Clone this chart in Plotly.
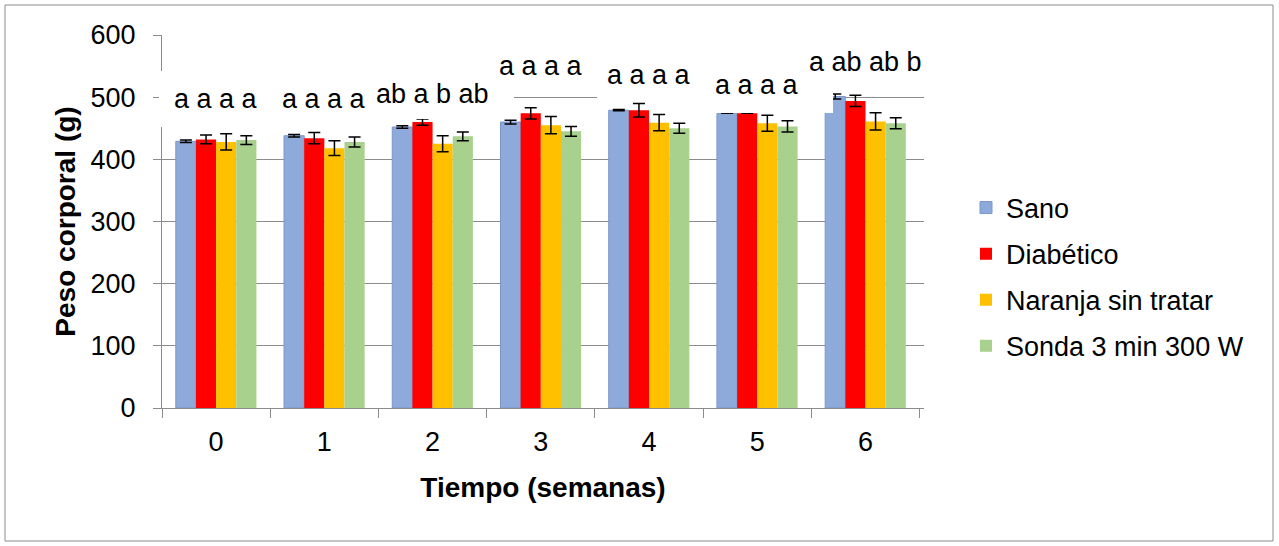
import plotly.graph_objects as go

weeks = ["0", "1", "2", "3", "4", "5", "6"]
series = ["Sano", "Diabético", "Naranja sin tratar", "Sonda 3 min 300 W"]
sano = [429, 438, 452, 460, 479, 474, 501]
sano_err = [2, 2, 2, 3, 1, None, 4]
diabetico = [432, 434, 460, 474, 479, 474, 494]
diabetico_err = [7, 9, 5, 9, 11, None, 9]
naranja = [428, 418, 425, 455, 459, 458, 461]
naranja_err = [13, 12, 13, 14, 13, 13, 14]
sonda = [431, 428, 437, 445, 450, 453, 458]
sonda_err = [7, 8, 7, 8, 8, 9, 9]
letters = ["a a a a", "a a a a", "ab a b ab", "a a a a", "a a a a", "a a a a", "a ab ab b"]
letter_y = [497, 497, 505, 550, 536, 520, 557]

colors = ["#8eaadb", "#ff0000", "#ffc000", "#a9d18e"]
values = [sano, diabetico, naranja, sonda]
errors = [sano_err, diabetico_err, naranja_err, sonda_err]

W, H = 1279, 546
L, R, T, B = 162, 924, 35, 408
FONT = "Liberation Sans, Arial, sans-serif"

def px_x(p):
    return (p - L) / (R - L)

def px_y(p):
    return (B - p) / (B - T)

fig = go.Figure()
for i, name in enumerate(series):
    fig.add_trace(go.Bar(
        x=weeks, y=values[i], name=name,
        marker=dict(color=colors[i],
                    line=dict(color="#7a96c9" if i == 0 else colors[i], width=1 if i == 0 else 0)),
        error_y=dict(type="data", array=errors[i], visible=True,
                     color="black", thickness=1.5, width=6),
        legendgroup=name,
    ))

# white text boxes behind the letter labels (pixel rectangles: x0, x1, y0, y1)
boxes = [(159, 275, 71, 127), (270, 380, 71, 127), (354, 514, 69, 119),
         (483, 603, 41, 91), (597, 707, 50, 100), (672, 833, 65, 113), (807, 933, 34, 90)]
for (x0, x1, y0, y1) in boxes:
    fig.add_shape(type="rect", xref="paper", yref="paper",
                  x0=px_x(x0), x1=px_x(x1), y0=px_y(y1), y1=px_y(y0),
                  line=dict(width=0), fillcolor="white", layer="above")

for i, txt in enumerate(letters):
    fig.add_annotation(
        x=i, y=letter_y[i], xref="x", yref="y", text=txt, showarrow=False,
        font=dict(family=FONT, size=27, color="black"),
        xanchor="center", yanchor="middle",
    )

# outer chart border
fig.add_shape(type="rect", xref="paper", yref="paper",
              x0=px_x(5), x1=px_x(1273), y0=px_y(541), y1=px_y(5),
              line=dict(color="#8c8c8c", width=1), fillcolor="rgba(0,0,0,0)", layer="below")

fig.update_layout(
    width=W, height=H,
    margin=dict(l=L, r=W - R, t=T, b=H - B, autoexpand=False),
    paper_bgcolor="white", plot_bgcolor="white",
    barmode="group", bargap=0.255, bargroupgap=0,
    font=dict(family=FONT, size=27, color="black"),
    showlegend=True,
    legend=dict(x=px_x(966), y=px_y(277), xanchor="left", yanchor="middle",
                font=dict(family=FONT, size=27, color="black"),
                tracegroupgap=8, bgcolor="rgba(0,0,0,0)", itemwidth=30),
    xaxis=dict(
        title=dict(text="<b>Tiempo (semanas)</b>", font=dict(family=FONT, size=28), standoff=20),
        showline=True, linecolor="#8c8c8c", linewidth=1,
        ticks="outside", tickson="boundaries", ticklen=9, tickcolor="#8c8c8c",
        tickfont=dict(family=FONT, size=27), showgrid=False, ticklabelstandoff=10,
    ),
    yaxis=dict(
        title=dict(text="<b>Peso corporal (g)</b>", font=dict(family=FONT, size=28), standoff=6),
        range=[0, 600], tickvals=[0, 100, 200, 300, 400, 500, 600],
        showline=True, linecolor="#8c8c8c", linewidth=1,
        ticks="outside", ticklen=8, tickcolor="#8c8c8c",
        showgrid=True, gridcolor="#8c8c8c", gridwidth=1, zeroline=False,
        tickfont=dict(family=FONT, size=27), ticklabelstandoff=12,
    ),
)

fig.write_html("out.html", config={"displayModeBar": False},
               post_script="document.body.style.margin='0';document.body.style.padding='0';")
